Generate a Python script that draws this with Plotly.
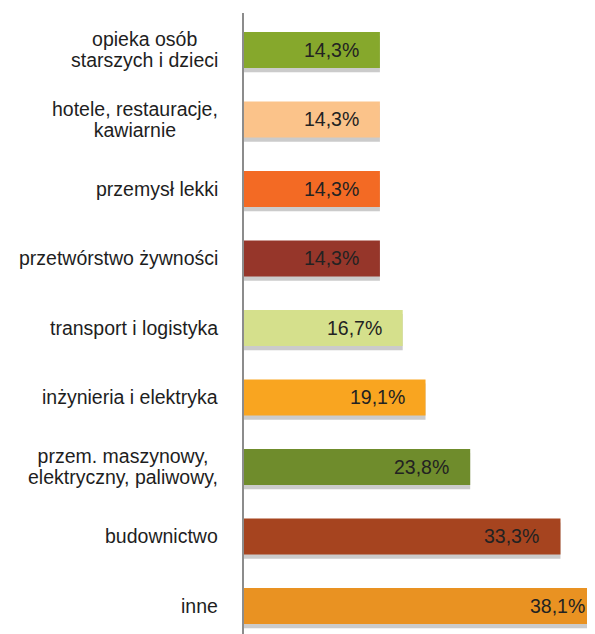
import plotly.graph_objects as go

categories = [
    "opieka osób<br>starszych i dzieci",
    "hotele, restauracje,<br>kawiarnie",
    "przemysł lekki",
    "przetwórstwo żywności",
    "transport i logistyka",
    "inżynieria i elektryka",
    "przem. maszynowy,<br>elektryczny, paliwowy,",
    "budownictwo",
    "inne",
]
values = [14.3, 14.3, 14.3, 14.3, 16.7, 19.1, 23.8, 33.3, 38.1]
value_labels = ["14,3%", "14,3%", "14,3%", "14,3%", "16,7%", "19,1%", "23,8%", "33,3%", "38,1%"]
colors = ["#86a82c", "#fbc38a", "#f36a24", "#96362a", "#d5e08c",
          "#f9a520", "#6f8c2c", "#a6441f", "#e99222"]

W, H = 600, 634
BAR_W = 0.52
FONT = "Liberation Sans, Arial, sans-serif"
SPAN = '<span style="font-size:19.5px">'

fig = go.Figure()
# soft shadow under each bar
fig.add_trace(go.Bar(
    x=values, y=categories, orientation="h",
    width=BAR_W, offset=-BAR_W / 2 + 0.06,
    marker=dict(color="rgba(140,140,140,0.45)", line=dict(width=0)),
    hoverinfo="skip", showlegend=False,
))
fig.add_trace(go.Bar(
    x=values, y=categories, orientation="h",
    width=BAR_W, offset=-BAR_W / 2,
    marker=dict(color=colors, line=dict(width=0)),
    showlegend=False,
))

annotations = []
for cat, v, lab in zip(categories, values, value_labels):
    annotations.append(dict(
        x=v, y=cat, xref="x", yref="y", text=lab, showarrow=False,
        xanchor="right", yanchor="middle", xshift=-19,
        font=dict(family=FONT, size=19.5, color="#222222"),
    ))
    annotations.append(dict(
        x=0, y=cat, xref="x", yref="y",
        text=SPAN + cat.replace("<br>", "</span><br>" + SPAN) + "</span>",
        showarrow=False,
        xanchor="right", yanchor="middle", xshift=-24, align="center",
        font=dict(family=FONT, size=16.2, color="#1e1e1e"),
    ))

fig.update_layout(
    width=W, height=H,
    margin=dict(l=236, r=0, t=5, b=0),
    paper_bgcolor="white", plot_bgcolor="white",
    barmode="overlay",
    annotations=annotations,
    xaxis=dict(range=[0, 38.3], visible=False, fixedrange=True),
    yaxis=dict(
        type="category", range=[8.518, -0.532],
        showticklabels=False, ticks="", showgrid=False, zeroline=False,
        showline=True, linecolor="#8c8c8c", linewidth=2,
    ),
)

fig.write_html("out.html")
